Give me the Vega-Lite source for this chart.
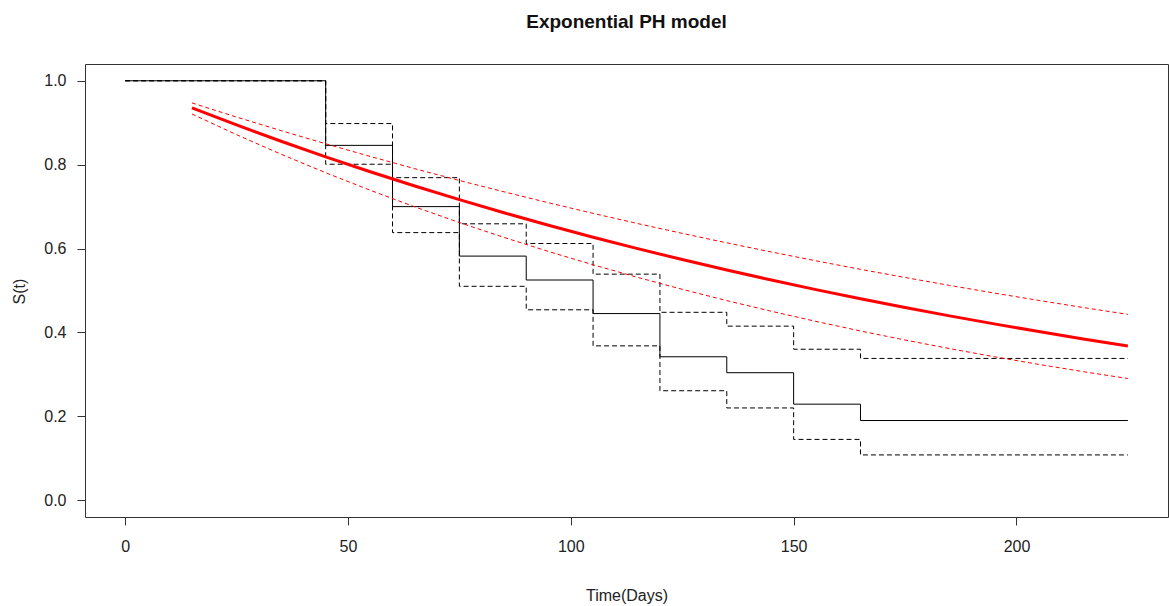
{
  "$schema": "https://vega.github.io/schema/vega-lite/v6.json",
  "autosize": {"type": "none"},
  "padding": {"left": 85, "top": 64, "right": 1, "bottom": 88},
  "width": 1083,
  "height": 453,
  "background": "white",
  "title": {
    "text": "Exponential PH model",
    "font": "Liberation Sans",
    "fontSize": 19,
    "fontWeight": "bold",
    "color": "#111",
    "anchor": "middle",
    "offset": 32
  },
  "config": {
    "view": {"stroke": "#333", "strokeWidth": 1},
    "axis": {
      "labelFont": "Liberation Sans",
      "labelFontSize": 16,
      "labelColor": "#222",
      "titleFont": "Liberation Sans",
      "titleFontSize": 16,
      "titleFontWeight": "normal",
      "titleColor": "#222",
      "domain": false,
      "grid": false,
      "tickColor": "#333",
      "tickSize": 8
    }
  },
  "datasets": {
    "km": [
      {"t": 0, "est": 1.0, "upper": 1.0, "lower": 1.0},
      {"t": 45, "est": 0.846, "upper": 0.898, "lower": 0.801},
      {"t": 60, "est": 0.700, "upper": 0.769, "lower": 0.638},
      {"t": 75, "est": 0.582, "upper": 0.659, "lower": 0.510},
      {"t": 90, "est": 0.525, "upper": 0.612, "lower": 0.454},
      {"t": 105, "est": 0.445, "upper": 0.539, "lower": 0.368},
      {"t": 120, "est": 0.342, "upper": 0.448, "lower": 0.261},
      {"t": 135, "est": 0.304, "upper": 0.415, "lower": 0.220},
      {"t": 150, "est": 0.229, "upper": 0.360, "lower": 0.145},
      {"t": 165, "est": 0.190, "upper": 0.338, "lower": 0.108},
      {"t": 225, "est": 0.190, "upper": 0.338, "lower": 0.108}
    ],
    "fit": [
      {"t": 15, "est": 0.9355, "hi": 0.9472, "lo": 0.9208},
      {"t": 25, "est": 0.8948, "hi": 0.9135, "lo": 0.8715},
      {"t": 35, "est": 0.8559, "hi": 0.8811, "lo": 0.8249},
      {"t": 45, "est": 0.8187, "hi": 0.8498, "lo": 0.7808},
      {"t": 55, "est": 0.7832, "hi": 0.8196, "lo": 0.7390},
      {"t": 65, "est": 0.7491, "hi": 0.7904, "lo": 0.6994},
      {"t": 75, "est": 0.7165, "hi": 0.7623, "lo": 0.6620},
      {"t": 85, "est": 0.6854, "hi": 0.7353, "lo": 0.6266},
      {"t": 95, "est": 0.6556, "hi": 0.7092, "lo": 0.5930},
      {"t": 105, "est": 0.6271, "hi": 0.6839, "lo": 0.5613},
      {"t": 115, "est": 0.5998, "hi": 0.6596, "lo": 0.5313},
      {"t": 125, "est": 0.5738, "hi": 0.6362, "lo": 0.5028},
      {"t": 135, "est": 0.5488, "hi": 0.6136, "lo": 0.4759},
      {"t": 145, "est": 0.5250, "hi": 0.5918, "lo": 0.4505},
      {"t": 155, "est": 0.5021, "hi": 0.5708, "lo": 0.4264},
      {"t": 165, "est": 0.4803, "hi": 0.5505, "lo": 0.4035},
      {"t": 175, "est": 0.4594, "hi": 0.5310, "lo": 0.3819},
      {"t": 185, "est": 0.4395, "hi": 0.5121, "lo": 0.3615},
      {"t": 195, "est": 0.4204, "hi": 0.4939, "lo": 0.3421},
      {"t": 205, "est": 0.4021, "hi": 0.4763, "lo": 0.3238},
      {"t": 215, "est": 0.3846, "hi": 0.4594, "lo": 0.3065},
      {"t": 225, "est": 0.3679, "hi": 0.4431, "lo": 0.2901}
    ]
  },
  "encoding": {
    "x": {
      "field": "t",
      "type": "quantitative",
      "scale": {"domain": [-9, 234], "nice": false, "zero": false},
      "axis": {
        "title": "Time(Days)",
        "values": [0, 50, 100, 150, 200],
        "labelPadding": 13,
        "titleY": 78,
        "titleBaseline": "middle"
      }
    }
  },
  "layer": [
    {
      "data": {"name": "km"},
      "mark": {"type": "line", "interpolate": "step-after", "color": "black", "strokeWidth": 1, "strokeDash": [5, 3]},
      "encoding": {
        "y": {
          "field": "upper",
          "type": "quantitative",
          "scale": {"domain": [-0.04, 1.04], "nice": false, "zero": false},
          "axis": {
            "title": "S(t)",
            "values": [0, 0.2, 0.4, 0.6, 0.8, 1.0],
            "format": ".1f",
            "labelPadding": 11,
            "titleAngle": -90,
            "titleX": -66,
            "titleY": 227,
            "titleBaseline": "middle"
          }
        }
      }
    },
    {
      "data": {"name": "km"},
      "mark": {"type": "line", "interpolate": "step-after", "color": "black", "strokeWidth": 1, "strokeDash": [5, 3]},
      "encoding": {"y": {"field": "lower", "type": "quantitative"}}
    },
    {
      "data": {"name": "km"},
      "mark": {"type": "line", "interpolate": "step-after", "color": "black", "strokeWidth": 1},
      "encoding": {"y": {"field": "est", "type": "quantitative"}}
    },
    {
      "data": {"name": "fit"},
      "mark": {"type": "line", "color": "red", "strokeWidth": 1, "strokeDash": [4, 3]},
      "encoding": {"y": {"field": "hi", "type": "quantitative"}}
    },
    {
      "data": {"name": "fit"},
      "mark": {"type": "line", "color": "red", "strokeWidth": 1, "strokeDash": [4, 3]},
      "encoding": {"y": {"field": "lo", "type": "quantitative"}}
    },
    {
      "data": {"name": "fit"},
      "mark": {"type": "line", "color": "red", "strokeWidth": 3},
      "encoding": {"y": {"field": "est", "type": "quantitative"}}
    }
  ]
}
